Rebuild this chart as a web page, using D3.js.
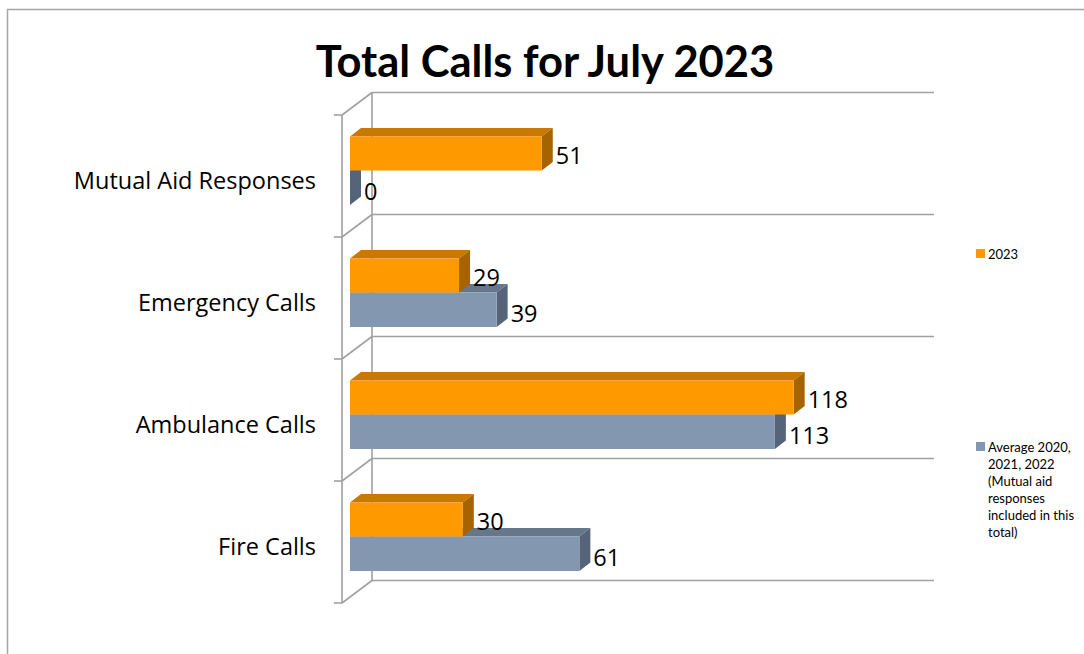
<!DOCTYPE html>
<html>
<head>
<meta charset="utf-8">
<script src="https://cdn.jsdelivr.net/npm/d3@7"></script>
<style>
  body { margin: 0; background: #fff; }
  svg { display: block; font-family: Lato, "Open Sans", sans-serif; }
</style>
</head>
<body>
<svg id="chart" width="1084" height="654"></svg>
<script>
// data
const categories = ["Mutual Aid Responses", "Emergency Calls", "Ambulance Calls", "Fire Calls"];
const calls2023 = [51, 29, 118, 30];
const callsAverage = [0, 39, 113, 61];
const legendLabels = ["2023", "Average 2020, 2021, 2022 (Mutual aid responses included in this total)"];
const legendLines = [["2023"], ["Average 2020,", "2021, 2022", "(Mutual aid", "responses", "included in this", "total)"]];
const gridTicks = [0, 1, 2, 3, 4];

const svg = d3.select("#chart");

// 3d layout
const wallX = 342, depthX = 30, depthY = 22.5;
const barDX = 11, barDY = 8.5;
const y = d3.scaleBand().domain(categories).range([115, 603]);
const x = d3.scaleLinear().domain([0, 150]).range([350, 914]);

const colors = {
  orange: {front: "#ff9900", top: "#c77900", side: "#a66400"},
  grey:   {front: "#8497b0", top: "#66778c", side: "#56647a"}
};

// outer frame
svg.append("path")
  .attr("d", "M7.5,654 L7.5,9.5 L1084,9.5")
  .attr("fill", "none").attr("stroke", "#a6a6a6").attr("stroke-width", 1.5);

// title
svg.append("text")
  .attr("x", 545).attr("y", 77)
  .attr("text-anchor", "middle")
  .attr("font-size", 43.5).attr("font-weight", "bold")
  .text("Total Calls for July 2023");

// walls and gridlines
let grid = svg.append("g").attr("id", "grid")
  .attr("stroke", "#a0a0a0").attr("stroke-width", 1.6).attr("fill", "none");

let levels = gridTicks.map(i => y.range()[0] + i * y.step());

grid.append("line")
  .attr("x1", wallX).attr("x2", wallX)
  .attr("y1", levels[0]).attr("y2", levels[levels.length - 1]);
grid.append("line")
  .attr("x1", wallX + depthX).attr("x2", wallX + depthX)
  .attr("y1", levels[0] - depthY).attr("y2", levels[levels.length - 1] - depthY);

grid.selectAll(".gl").data(levels).enter()
  .append("line").attr("class", "gl")
  .attr("x1", wallX + depthX).attr("x2", 934)
  .attr("y1", d => d - depthY).attr("y2", d => d - depthY);

grid.selectAll(".dg").data(levels).enter()
  .append("line").attr("class", "dg")
  .attr("x1", wallX).attr("x2", wallX + depthX)
  .attr("y1", d => d).attr("y2", d => d - depthY);

grid.selectAll(".tk").data(levels).enter()
  .append("line").attr("class", "tk")
  .attr("x1", wallX - 8).attr("x2", wallX)
  .attr("y1", d => d).attr("y2", d => d);

// bars
let bar3d = function(g, x0, x1, yTop, h, c) {
  g.append("polygon")
    .attr("points", [[x0, yTop], [x0 + barDX, yTop - barDY], [x1 + barDX, yTop - barDY], [x1, yTop]].join(" "))
    .attr("fill", c.top);
  g.append("polygon")
    .attr("points", [[x1, yTop], [x1 + barDX, yTop - barDY], [x1 + barDX, yTop + h - barDY], [x1, yTop + h]].join(" "))
    .attr("fill", c.side);
  if (x1 > x0) {
    g.append("rect")
      .attr("x", x0).attr("y", yTop)
      .attr("width", x1 - x0).attr("height", h)
      .attr("fill", c.front);
  }
};

let bars = svg.append("g").attr("id", "bars");
let labels = svg.append("g").attr("id", "labels")
  .attr("font-size", 23.5).attr("font-family", "'Open Sans', sans-serif");

categories.forEach((cat, i) => {
  let top = y(cat);
  let g = bars.append("g");
  // grey (average) first, orange sits above it
  let gy = top + 55.5, oy = top + 21.5, h = 34.5;
  bar3d(g, x(0), x(callsAverage[i]), gy, h, colors.grey);
  bar3d(g, x(0), x(calls2023[i]), oy, h - 0.5, colors.orange);

  labels.append("text")
    .attr("x", x(calls2023[i]) + barDX + 3).attr("y", oy + h / 2 + 1)
    .attr("dominant-baseline", "central")
    .text(calls2023[i]);
  labels.append("text")
    .attr("x", x(callsAverage[i]) + barDX + 3).attr("y", gy + h / 2 + 3)
    .attr("dominant-baseline", "central")
    .text(callsAverage[i]);
});

// category labels
svg.append("g").attr("id", "cats")
  .attr("font-family", "'Open Sans', sans-serif")
  .selectAll("text").data(categories).enter()
  .append("text")
  .attr("x", 316)
  .attr("y", d => y(d) + y.bandwidth() / 2 + 4)
  .attr("text-anchor", "end")
  .attr("dominant-baseline", "central")
  .attr("font-size", 23.5)
  .text(d => d);

// legend
let legendY = [249, 442];
let legendFill = [colors.orange.front, colors.grey.front];
let legend = svg.append("g").attr("id", "legend").attr("font-size", 13);
legendLabels.forEach((lab, i) => {
  legend.append("rect")
    .attr("x", 976).attr("y", legendY[i])
    .attr("width", 9).attr("height", 9)
    .attr("fill", legendFill[i]);
  let t = legend.append("text")
    .attr("x", 988).attr("y", legendY[i] + 9.5);
  legendLines[i].forEach((ln, j) => {
    t.append("tspan").attr("x", 988).attr("dy", j === 0 ? 0 : 17).text(ln);
  });
});
</script>
</body>
</html>
